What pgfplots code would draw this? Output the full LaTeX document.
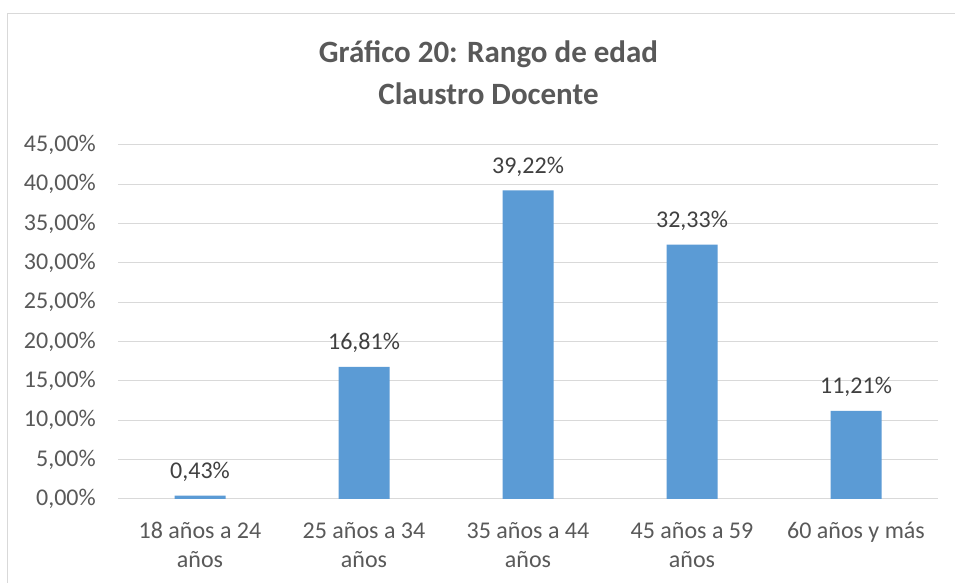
\documentclass[border=0pt]{standalone}
\usepackage{pgfplots}
\pgfplotsset{compat=1.18}
\usepackage{fontspec}
\setmainfont{Carlito}
\definecolor{barblue}{HTML}{5B9BD5}
\definecolor{gridgray}{HTML}{D9D9D9}
\definecolor{ticktext}{HTML}{595959}
\definecolor{valtext}{HTML}{404040}
\begin{document}
\begin{tikzpicture}
\useasboundingbox (0,0) rectangle (955bp,583bp);
\fill[white] (0,0) rectangle (955bp,583bp);
\draw[gridgray, line width=1bp] (7bp,0) -- (7bp,569bp) -- (955bp,569bp);
\node[anchor=base, text=ticktext, font=\fontsize{31bp}{37bp}\selectfont\bfseries] at (488.5bp,520bp) {Gráfico 20: Rango de edad};
\node[anchor=base, text=ticktext, font=\fontsize{31bp}{37bp}\selectfont\bfseries] at (488.5bp,478bp) {Claustro Docente};
\begin{axis}[
  at={(118bp,84bp)}, anchor=south west,
  scale only axis, width=820bp, height=354bp,
  xmin=-0.5, xmax=4.5, ymin=0, ymax=45,
  xtick=data,
  xticklabels={{18 años a 24\\años},{25 años a 34\\años},{35 años a 44\\años},{45 años a 59\\años},{60 años y más}},
  ytick={0,5,...,45},
  yticklabel={\pgfmathprintnumber[fixed,fixed zerofill,precision=2,use comma]{\tick}\%},
  /pgf/number format/assume math mode=true,
  axis x line*=bottom,
  axis y line*=left,
  y axis line style={draw=none},
  x axis line style={gridgray, line width=1bp, -},
  ymajorgrids, major grid style={gridgray, line width=1bp},
  major tick length=0pt,
  tick style={draw=none},
  yticklabel style={text=ticktext, font=\fontsize{24bp}{29bp}\selectfont, inner sep=0pt, anchor=east, xshift=-22bp},
  xticklabel style={text=ticktext, font=\fontsize{24bp}{29bp}\selectfont, inner sep=0pt, anchor=north, align=center, yshift=-23bp},
  ybar, bar width=51bp,
  nodes near coords={\pgfmathprintnumber[fixed,fixed zerofill,precision=2,use comma]{\pgfplotspointmeta}\%},
  nodes near coords style={text=valtext, font=\fontsize{24bp}{29bp}\selectfont, inner sep=0pt, anchor=south, yshift=14bp, /pgf/number format/assume math mode=true},
  clip=false,
]
\addplot[fill=barblue, draw=none] coordinates {(0,0.43) (1,16.81) (2,39.22) (3,32.33) (4,11.21)};
\end{axis}
\end{tikzpicture}
\end{document}
